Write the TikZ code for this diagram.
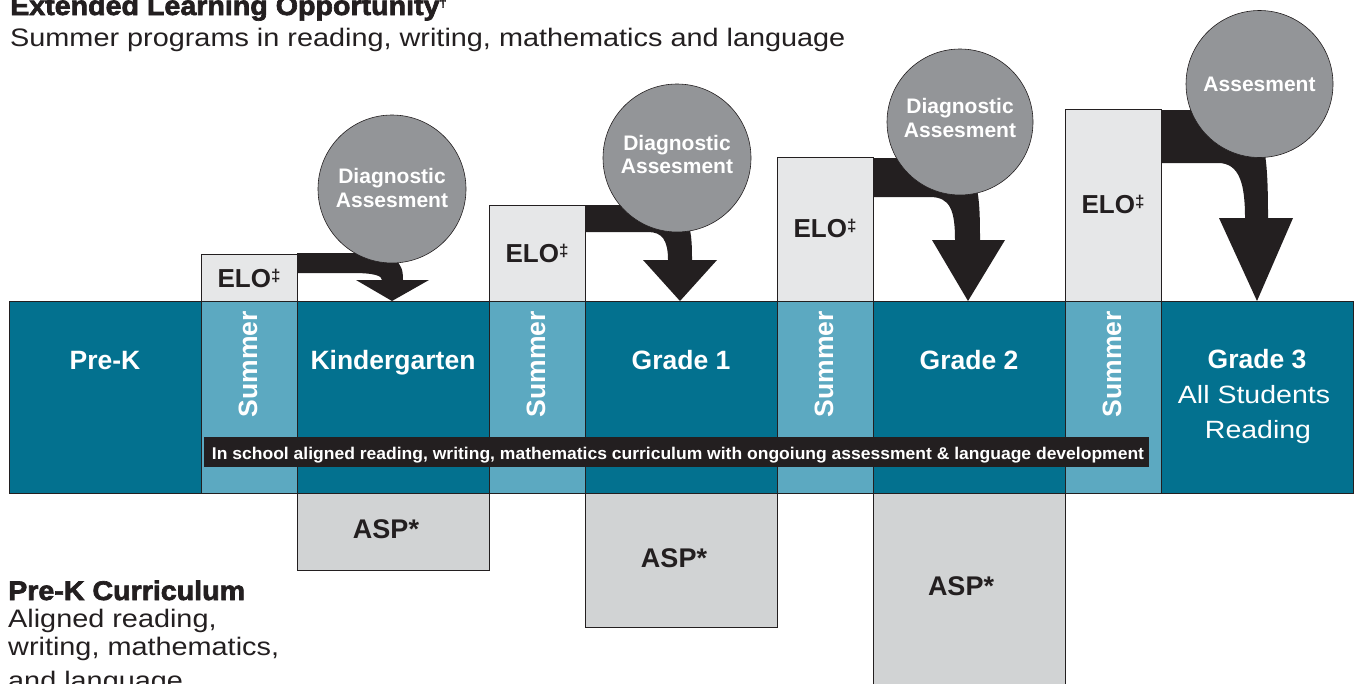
\documentclass[tikz,border=0pt]{standalone}
\usepackage{fontspec}
\usepackage{graphicx}
\setmainfont{Liberation Sans}
\newfontfamily\widefont[FakeStretch=1.14]{Liberation Sans}
\newfontfamily\heavyfont[FakeStretch=1.06,BoldFeatures={FakeBold=2.5}]{Liberation Sans}
\definecolor{cDark}{HTML}{03718F}
\definecolor{cLight}{HTML}{5CA9C1}
\definecolor{cElo}{HTML}{E6E7E8}
\definecolor{cAsp}{HTML}{D1D3D4}
\definecolor{cCirc}{HTML}{939598}
\definecolor{cInk}{HTML}{231F20}
\newcommand{\elodag}{\raisebox{6pt}{\fontsize{17}{17}\selectfont ‡}}
\begin{document}
\begin{tikzpicture}[x=1pt,y=-1pt,
  bx/.style={draw=cInk, line width=0.8pt},
  arr/.style={fill=cInk},
  circ/.style={circle, fill=cCirc, draw=cInk, line width=0.6pt, inner sep=0, minimum size=#1},
  collbl/.style={anchor=base, inner sep=0, text=white, font=\bfseries\fontsize{26.5}{30}\selectfont},
  sumlbl/.style={anchor=base, inner sep=0, rotate=90, text=white, font=\bfseries\fontsize{26.5}{30}\selectfont},
  elolbl/.style={anchor=base, inner sep=0, text=cInk, font=\bfseries\fontsize{26}{30}\selectfont},
  asplbl/.style={anchor=base, inner sep=0, text=cInk, font=\bfseries\fontsize{27}{30}\selectfont},
  ctext/.style={anchor=base, inner sep=0, text=white, font=\bfseries\fontsize{21}{24}\selectfont},
  heavytxt/.style={anchor=base west, inner sep=0, text=cInk, font=\heavyfont\bfseries\fontsize{27}{30}\selectfont},
  bodytxt/.style={anchor=base west, inner sep=0, text=cInk, font=\widefont\fontsize{25.3}{30}\selectfont},
  wbody/.style={anchor=base, inner sep=0, text=white, font=\widefont\fontsize{25}{30}\selectfont}
]
\useasboundingbox (0,0) rectangle (1356,683);
\clip (0,0) rectangle (1356,683);

% ELO boxes
\path[bx, fill=cElo] (201,254) rectangle (297,301);
\path[bx, fill=cElo] (489,205) rectangle (585,301);
\path[bx, fill=cElo] (777,157) rectangle (873,301);
\path[bx, fill=cElo] (1065,109) rectangle (1161,301);

% ASP boxes
\path[bx, fill=cAsp] (297,493) rectangle (489,570);
\path[bx, fill=cAsp] (585,493) rectangle (777,627);
\path[bx, fill=cAsp] (873,493) rectangle (1065,700);

% main band
\path[bx, fill=cDark] (9,301) rectangle (201,493);
\path[bx, fill=cLight] (201,301) rectangle (297,493);
\path[bx, fill=cDark] (297,301) rectangle (489,493);
\path[bx, fill=cLight] (489,301) rectangle (585,493);
\path[bx, fill=cDark] (585,301) rectangle (777,493);
\path[bx, fill=cLight] (777,301) rectangle (873,493);
\path[bx, fill=cDark] (873,301) rectangle (1065,493);
\path[bx, fill=cLight] (1065,301) rectangle (1161,493);
\path[bx, fill=cDark] (1161,301) rectangle (1353,493);

% arrows
\coordinate (tip1) at (392,301);
\coordinate (tip2) at (680,301);
\coordinate (tip3) at (968,301);
\coordinate (tip4) at (1257,301);
\fill[arr] (297,253) -- (350,253) .. controls (398,253) and (403,262) .. (403,280)
  -- (429,280) -- (tip1) -- (356,280) -- (382,280)
  .. controls (382,276) and (375,273) .. (353,273) -- (297,273) -- cycle;
\fill[arr] (585,205) -- (650,205) .. controls (690,205) and (692,225) .. (692,260)
  -- (717,260) -- (tip2) -- (643,260) -- (668,260)
  .. controls (668,240) and (662,232) .. (648,232) -- (585,232) -- cycle;
\fill[arr] (873,158) -- (935,158) .. controls (978,158) and (980,185) .. (980,240)
  -- (1005,240) -- (tip3) -- (932,240) -- (955,240)
  .. controls (955,210) and (950,197) .. (930,197) -- (873,197) -- cycle;
\fill[arr] (1161,110) -- (1225,110) .. controls (1265,110) and (1268,150) .. (1268,218)
  -- (1293,218) -- (tip4) -- (1219,218) -- (1245,218)
  .. controls (1245,185) and (1240,163) .. (1218,163) -- (1161,163) -- cycle;

% circles
\node[circ=148pt] (c1) at (392,189) {};
\node[circ=148pt] (c2) at (677,158) {};
\node[circ=146pt] (c3) at (960,122) {};
\node[circ=147pt] (c4) at (1259.5,84) {};
\node[ctext] (c1a) at (392,183) {Diagnostic};
\node[ctext] (c1b) at (392,207) {Assesment};
\node[ctext] (c2a) at (677,150) {Diagnostic};
\node[ctext] (c2b) at (677,173) {Assesment};
\node[ctext] (c3a) at (960,113) {Diagnostic};
\node[ctext] (c3b) at (960,137) {Assesment};
\node[ctext] (c4a) at (1259.5,91) {Assesment};

% ELO labels
\node[elolbl] (e1) at (249,287) {ELO\elodag};
\node[elolbl] (e2) at (537,262) {ELO\elodag};
\node[elolbl] (e3) at (825,237) {ELO\elodag};
\node[elolbl] (e4) at (1113,213) {ELO\elodag};

% column labels
\node[collbl] (prek) at (105,369) {Pre-K};
\node[collbl] (kg) at (393,369) {Kindergarten};
\node[collbl] (g1) at (681,369) {Grade 1};
\node[collbl] (g2) at (969,369) {Grade 2};
\node[collbl] (g3) at (1257,368) {Grade 3};
\node[wbody] (g3a) at (1254,403) {All Students};
\node[wbody] (g3b) at (1258,438) {Reading};
\node[sumlbl] (s1) at (257,364) {Summer};
\node[sumlbl] (s2) at (545,364) {Summer};
\node[sumlbl] (s3) at (833,364) {Summer};
\node[sumlbl] (s4) at (1121,364) {Summer};

% banner
\path[fill=cInk] (204,437) rectangle (1149,467);
\node[anchor=base, inner sep=0, text=white] (ban) at (678,459)
  {\resizebox{932pt}{\height}{\fontsize{17}{17}\selectfont\bfseries In school aligned reading, writing, mathematics curriculum with ongoiung assessment \& language development}};

% ASP labels
\node[asplbl] (a1) at (386,538) {ASP*};
\node[asplbl] (a2) at (674,567) {ASP*};
\node[asplbl] (a3) at (961,595) {ASP*};

% side texts
\node[heavytxt] (ttl) at (10,15) {Extended Learning Opportunity\raisebox{8pt}{\fontsize{12}{12}\selectfont †}};
\node[bodytxt] (sub) at (10,46) {Summer programs in reading, writing, mathematics and language};
\node[heavytxt] (pkc) at (8,600) {Pre-K Curriculum};
\node[bodytxt] (pk1) at (8,627) {Aligned reading,};
\node[bodytxt] (pk2) at (8,655) {writing, mathematics,};
\node[bodytxt] (pk3) at (8,689) {and language};
\end{tikzpicture}
\end{document}
